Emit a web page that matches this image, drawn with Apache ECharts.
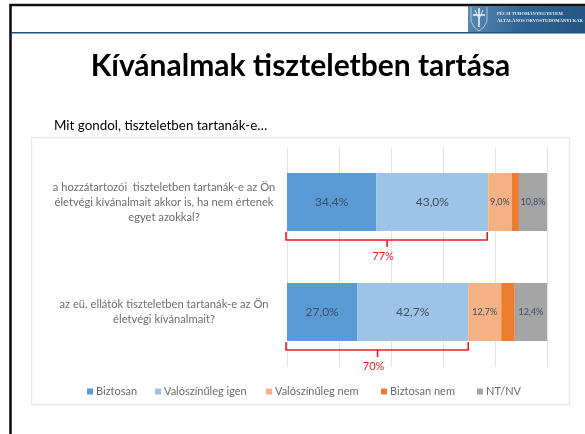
<!DOCTYPE html>
<html>
<head>
<meta charset="utf-8">
<title>Kívánalmak tiszteletben tartása</title>
<script src="https://cdn.jsdelivr.net/npm/echarts@6/dist/echarts.min.js"></script>
<style>
  html, body { margin: 0; padding: 0; background: #fff; }
  #chart { width: 585px; height: 434px; }
</style>
</head>
<body>
<div id="chart"></div>
<script>
var categories = [
  'a hozzátartozói  tiszteletben tartanák-e az Ön\néletvégi kívánalmait akkor is, ha nem értenek\negyet azokkal?',
  'az eü. ellátók tiszteletben tartanák-e az Ön\néletvégi kívánalmait?'
];
var biztosan = [34.4, 27.0];
var valIgen = [43.0, 42.7];
var valNem = [9.0, 12.7];
var bizNem = [2.8, 5.2];
var ntNv = [10.8, 12.4];
var seriesNames = ['Biztosan', 'Valószínűleg igen', 'Valószínűleg nem', 'Biztosan nem', 'NT/NV'];
var bracketEnds = [77, 69.7];
var bracketLabels = ['77%', '70%'];

var fontName = 'Lato';
var redColor = '#f7181e';
var chart = echarts.init(document.getElementById('chart'));

function percentLabel(size) {
  return {
    show: true,
    position: 'inside',
    fontFamily: fontName,
    fontSize: size,
    color: '#3f4d66',
    formatter: function (p) { return p.value.toFixed(1).replace('.', ',') + '%'; }
  };
}

function barSeries(name, data, color, label) {
  return {
    name: name,
    type: 'bar',
    stack: 'total',
    barWidth: 58,
    data: data,
    itemStyle: { color: color },
    label: label
  };
}

function legendItem(name, left) {
  return {
    left: left,
    top: 381,
    itemWidth: 6,
    itemHeight: 6,
    icon: 'rect',
    data: [name],
    textStyle: { fontFamily: fontName, fontSize: 11, color: '#6b6b6b', padding: [0, 0, 0, -2] }
  };
}

// szogletes zarojel a sav alatt
function renderBracket(params, api) {
  var end = api.value(0);
  var cat = api.value(1);
  var left = api.coord([0, cat]);
  var right = api.coord([end, cat]);
  var top = left[1] + 29 + 1;
  var bottom = top + 8;
  var midX = (left[0] + right[0]) / 2;
  return {
    type: 'group',
    children: [
      {
        type: 'polyline',
        shape: { points: [[left[0] - 1, top], [left[0] - 1, bottom], [right[0], bottom], [right[0], top]] },
        style: { stroke: redColor, lineWidth: 1.6, fill: null }
      },
      {
        type: 'line',
        shape: { x1: midX, y1: bottom, x2: midX, y2: bottom + 7 },
        style: { stroke: redColor, lineWidth: 1.6 }
      },
      {
        type: 'text',
        style: {
          text: bracketLabels[params.dataIndex],
          x: midX - 4,
          y: bottom + 16,
          align: 'center',
          verticalAlign: 'middle',
          fontFamily: fontName,
          fontSize: 11,
          fill: redColor
        }
      }
    ]
  };
}

var option = {
  animation: false,
  backgroundColor: '#ffffff',
  textStyle: { fontFamily: fontName },
  graphic: [
    // dia kerete
    { type: 'rect', shape: { x: 10.5, y: 5, width: 590, height: 440 }, style: { fill: 'none', stroke: '#111111', lineWidth: 2.6 }, z: 0 },
    // fejlec
    { type: 'rect', shape: { x: 12, y: 32, width: 573, height: 1.6 }, style: { fill: '#1f4e79' }, z: 1 },
    {
      type: 'rect',
      shape: { x: 468, y: 6, width: 117, height: 26 },
      style: {
        fill: new echarts.graphic.LinearGradient(0, 0, 1, 1, [
          { offset: 0, color: '#5b8ab3' },
          { offset: 0.45, color: '#2f6595' },
          { offset: 1, color: '#235583' }
        ])
      },
      z: 1
    },
    // cimer
    { type: 'polyline', shape: { points: [[471, 7], [471, 21], [474, 27], [479, 31], [484, 27], [487, 21], [487, 7]] }, style: { fill: 'none', stroke: '#c9d8e6', lineWidth: 0.8 }, z: 2 },
    { type: 'line', shape: { x1: 479, y1: 8, x2: 479, y2: 27 }, style: { stroke: '#e8eef4', lineWidth: 1.6 }, z: 2 },
    { type: 'line', shape: { x1: 473, y1: 15, x2: 485, y2: 15 }, style: { stroke: '#e8eef4', lineWidth: 1.6 }, z: 2 },
    { type: 'line', shape: { x1: 475, y1: 10, x2: 479, y2: 19 }, style: { stroke: '#dbe5ee', lineWidth: 1 }, z: 2 },
    { type: 'line', shape: { x1: 483, y1: 10, x2: 479, y2: 19 }, style: { stroke: '#dbe5ee', lineWidth: 1 }, z: 2 },
    { type: 'text', style: { text: 'PÉCSI TUDOMÁNYEGYETEM', x: 497, y: 13.5, fontFamily: 'Liberation Serif', fontWeight: 'bold', fontSize: 4.6, fill: '#e8eef4', verticalAlign: 'middle' }, z: 2 },
    { type: 'text', style: { text: 'ÁLTALÁNOS ORVOSTUDOMÁNYI KAR', x: 497, y: 20.5, fontFamily: 'Liberation Serif', fontWeight: 'bold', fontSize: 4.6, fill: '#e8eef4', verticalAlign: 'middle' }, z: 2 },
    // cim
    { type: 'text', style: { text: 'Kívánalmak tiszteletben tartása', x: 300.5, y: 66, align: 'center', verticalAlign: 'middle', fontFamily: fontName, fontWeight: 'bold', fontSize: 30, fill: '#000000' }, z: 2 },
    { type: 'text', style: { text: 'Mit gondol, tiszteletben tartanák-e…', x: 54, y: 126, verticalAlign: 'middle', fontFamily: fontName, fontSize: 13.4, fill: '#000000' }, z: 2 },
    // diagram kerete
    { type: 'rect', shape: { x: 31.5, y: 137.5, width: 538, height: 267 }, style: { fill: '#ffffff', stroke: '#e8e8e8', lineWidth: 1.4 }, z: 0 }
  ],
  grid: { left: 287, right: 38, top: 147, bottom: 67 },
  legend: [
    legendItem(seriesNames[0], 82),
    legendItem(seriesNames[1], 150),
    legendItem(seriesNames[2], 261),
    legendItem(seriesNames[3], 376),
    legendItem(seriesNames[4], 472)
  ],
  xAxis: {
    type: 'value',
    min: 0,
    max: 100,
    interval: 20,
    axisLine: { show: false },
    axisTick: { show: false },
    axisLabel: { show: false },
    splitLine: { lineStyle: { color: '#e4e4e4', width: 1.2 } }
  },
  yAxis: {
    type: 'category',
    inverse: true,
    data: categories,
    axisLine: { show: false },
    axisTick: { show: false },
    axisLabel: {
      align: 'center',
      margin: 123,
      fontFamily: fontName,
      fontSize: 11.2,
      lineHeight: 15,
      color: '#6e6e6e'
    }
  },
  series: [
    barSeries(seriesNames[0], biztosan, '#5b9bd5', percentLabel(12)),
    barSeries(seriesNames[1], valIgen, '#9dc3e6', percentLabel(12)),
    barSeries(seriesNames[2], valNem, '#f4b183', percentLabel(9)),
    barSeries(seriesNames[3], bizNem, '#ed7d31'),
    barSeries(seriesNames[4], ntNv, '#a5a5a5', percentLabel(9)),
    {
      type: 'custom',
      renderItem: renderBracket,
      encode: { x: 0, y: 1 },
      data: bracketEnds.map(function (v, i) { return [v, i]; }),
      z: 5,
      silent: true
    }
  ]
};
chart.setOption(option);
</script>
</body>
</html>
